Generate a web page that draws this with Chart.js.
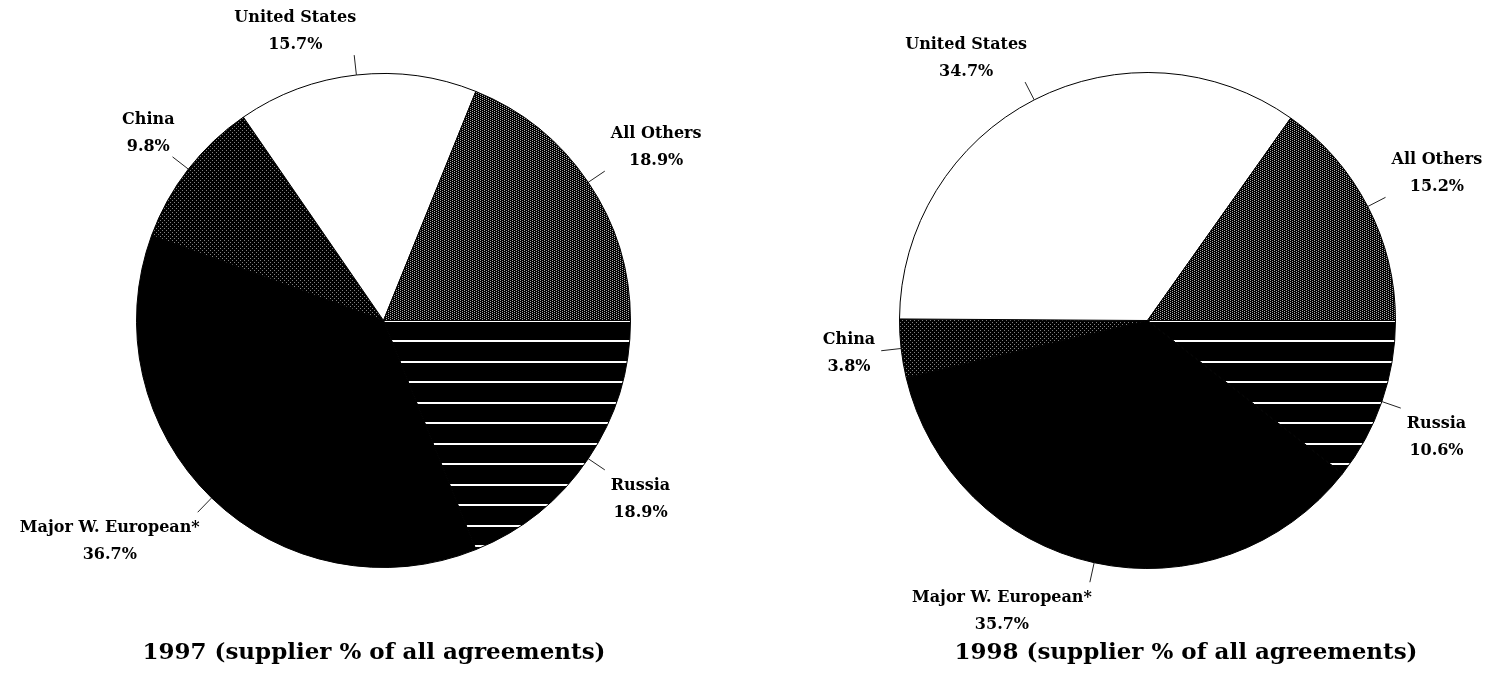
<!DOCTYPE html>
<html>
<head>
<meta charset="utf-8">
<script src="https://cdn.jsdelivr.net/npm/chart.js@4/dist/chart.umd.min.js"></script>
<style>
  body { margin: 0; background: #fff; }
  #wrap { position: relative; width: 1492px; height: 681px; overflow: hidden; }
  canvas { position: absolute; top: 0; }
</style>
</head>
<body>
<div id="wrap">
  <canvas id="pie1997" width="746" height="681" style="left:0"></canvas>
  <canvas id="pie1998" width="746" height="681" style="left:746px"></canvas>
</div>
<script>
// data
const suppliers = ["Russia", "Major W. European*", "China", "United States", "All Others"];
const share1997 = [18.9, 36.7, 9.8, 15.7, 18.9];
const share1998 = [10.6, 35.7, 3.8, 34.7, 15.2];
const chartTitles = ["1997 (supplier % of all agreements)", "1998 (supplier % of all agreements)"];

// fill patterns
const makePattern = (w, h, bg, fg, pixels) => {
    const c = document.createElement("canvas");
    c.width = w;
    c.height = h;
    const x = c.getContext("2d");
    x.fillStyle = bg;
    x.fillRect(0, 0, w, h);
    x.fillStyle = fg;
    pixels.forEach(([px, py, pw, ph]) => x.fillRect(px, py, pw || 1, ph || 1));
    return x.createPattern(c, "repeat");
};

const stripes = makePattern(4, 41, "#000", "#fff", [[0, 12, 4, 2], [0, 33, 4, 2]]);
const chinaDots = makePattern(4, 4, "#000", "#808080", [[0, 0], [2, 2]]);
const othersDots = makePattern(4, 2, "#000", "#a8a8a8", [[0, 0], [2, 1]]);
const sliceFills = [stripes, "#000", chinaDots, "#fff", othersDots];

const labelFont = 'bold 16px "DejaVu Serif"';
const titleFont = 'bold 23px "DejaVu Serif"';

// leader lines, slice labels and the caption under each pie
const pieLabels = {
    id: "pieLabels",
    afterDatasetsDraw(chart, args, opts) {
        const ctx = chart.ctx;
        const meta = chart.getDatasetMeta(0);
        const values = chart.data.datasets[0].data;
        ctx.save();
        meta.data.forEach((arc, i) => {
            const p = arc.getProps(["x", "y", "startAngle", "endAngle", "outerRadius"], true);
            const mid = (p.startAngle + p.endAngle) / 2;
            const cos = Math.cos(mid);
            const sin = Math.sin(mid);
            const x0 = p.x + cos * p.outerRadius;
            const y0 = p.y + sin * p.outerRadius;
            const x1 = p.x + cos * (p.outerRadius + 20);
            const y1 = p.y + sin * (p.outerRadius + 20);
            ctx.strokeStyle = "#222";
            ctx.lineWidth = 1;
            ctx.beginPath();
            ctx.moveTo(x0, y0);
            ctx.lineTo(x1, y1);
            ctx.stroke();

            const name = chart.data.labels[i];
            const pct = values[i].toFixed(1) + "%";
            ctx.font = labelFont;
            ctx.fillStyle = "#000";
            const bw = Math.max(ctx.measureText(name).width, ctx.measureText(pct).width);
            let bx;
            if (cos > 0.25) bx = x1 + 6;
            else if (Math.abs(sin) < 0.3) bx = x1 - 6 - bw;
            else bx = x1 + 2 - bw;
            let top;
            if (sin < -0.3) top = y1 - 6 - 40;
            else if (sin > 0.3) top = y1 + 7;
            else top = y1 - 20;
            ctx.textAlign = "center";
            ctx.textBaseline = "alphabetic";
            ctx.fillText(name, bx + bw / 2, top + 13);
            ctx.fillText(pct, bx + bw / 2, top + 40);
        });
        ctx.font = titleFont;
        ctx.textAlign = "center";
        ctx.fillText(opts.text, opts.x, 659);
        ctx.restore();
    },
};

const buildPie = (id, values, title, pad, titleX) => {
    return new Chart(document.getElementById(id), {
        type: "pie",
        data: {
            labels: suppliers,
            datasets: [
                {
                    data: values,
                    backgroundColor: sliceFills,
                    borderColor: "#000",
                    borderWidth: 1,
                    hoverOffset: 0,
                    offset: 0,
                },
            ],
        },
        options: {
            responsive: false,
            animation: false,
            rotation: 90,
            layout: { padding: pad },
            events: [],
            plugins: {
                legend: { display: false },
                tooltip: { enabled: false },
                pieLabels: { text: title, x: titleX },
            },
        },
        plugins: [pieLabels],
    });
};

buildPie("pie1997", share1997, chartTitles[0], { left: 136, top: 73, right: 115, bottom: 113 }, 374);
buildPie("pie1998", share1998, chartTitles[1], { left: 153, top: 72, right: 96, bottom: 112 }, 440);
</script>
</body>
</html>
